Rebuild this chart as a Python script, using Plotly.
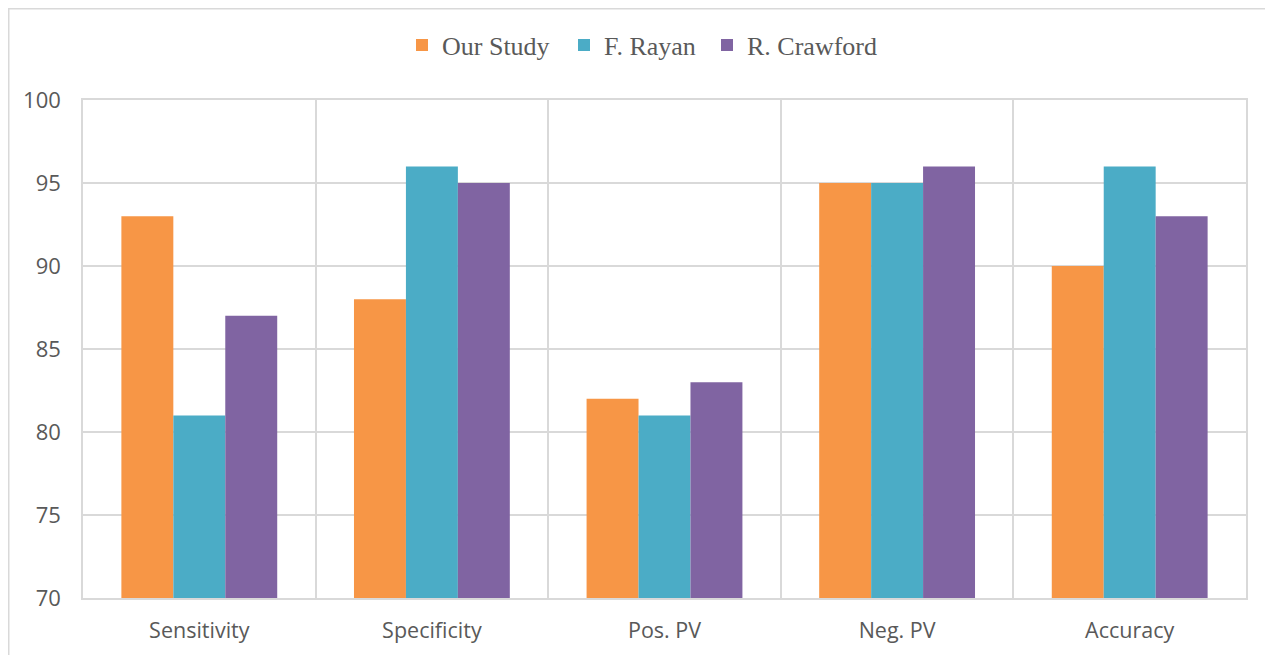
import plotly.graph_objects as go

categories = ["Sensitivity", "Specificity", "Pos. PV", "Neg. PV", "Accuracy"]
our_study = [93, 88, 82, 95, 90]
f_rayan = [81, 96, 81, 95, 96]
r_crawford = [87, 95, 83, 96, 93]
series_names = ["Our Study", "F. Rayan", "R. Crawford"]
colors = ["#F79646", "#4BACC6", "#8064A2"]

# page body has an 8px margin, so the figure is drawn 8px in from the window edge
OFF = 8
W, H = 1273 - OFF, 655 - OFF
L, T = 83 - OFF, 100 - OFF
R = W - (1246 - OFF)
B = H - (598 - OFF)
pw, ph = W - L - R, H - T - B

legend_item_x = [425 - OFF - 23, 587 - OFF - 23, 730 - OFF - 23]
legend_y = 1 + (T - (45 - OFF)) / ph

grid = "#D9D9D9"
txt = "#595959"

fig = go.Figure()
legend_ids = ["legend", "legend2", "legend3"]
for name, vals, col, lid in zip(series_names, [our_study, f_rayan, r_crawford], colors, legend_ids):
    fig.add_trace(go.Bar(x=categories, y=vals, name=name, legend=lid,
                         marker=dict(color=col, line=dict(width=0))))

legend_common = dict(orientation="h", yanchor="middle", xanchor="left", y=legend_y,
                     font=dict(family="Liberation Serif", size=26, color=txt),
                     bgcolor="rgba(0,0,0,0)", borderwidth=0)
layout_legends = {}
for lid, px in zip(legend_ids, legend_item_x):
    layout_legends[lid] = dict(legend_common, x=(px - L) / pw)

fig.update_layout(
    width=W, height=H,
    margin=dict(l=L, r=R, t=T, b=B),
    paper_bgcolor="white", plot_bgcolor="white",
    barmode="group", bargap=0.33, bargroupgap=0,
    showlegend=True,
    font=dict(family="Open Sans", size=22, color=txt),
    xaxis=dict(type="category", tickson="boundaries", showgrid=True, gridcolor=grid, gridwidth=1.5,
               ticks="", showline=True, linecolor=grid, linewidth=1.5, mirror=True,
               ticklabelstandoff=12, tickfont=dict(family="Open Sans", size=21.5, color=txt)),
    yaxis=dict(range=[70, 100], dtick=5, tick0=70, showgrid=True, gridcolor=grid, gridwidth=1.5,
               ticks="", showline=True, linecolor=grid, linewidth=1.5, mirror=True,
               ticklabelstandoff=16, tickfont=dict(family="Open Sans", size=22, color=txt),
               zeroline=False),
    shapes=[dict(type="rect", xref="paper", yref="paper",
                 x0=(0.5 - L) / pw, x1=(W + 20 - L) / pw,
                 y0=-(H + 20 - T - ph) / ph, y1=1 + (T - 0.5) / ph,
                 line=dict(color=grid, width=2), fillcolor="rgba(0,0,0,0)", layer="below")],
    **layout_legends,
)

fig.write_html("out.html")
